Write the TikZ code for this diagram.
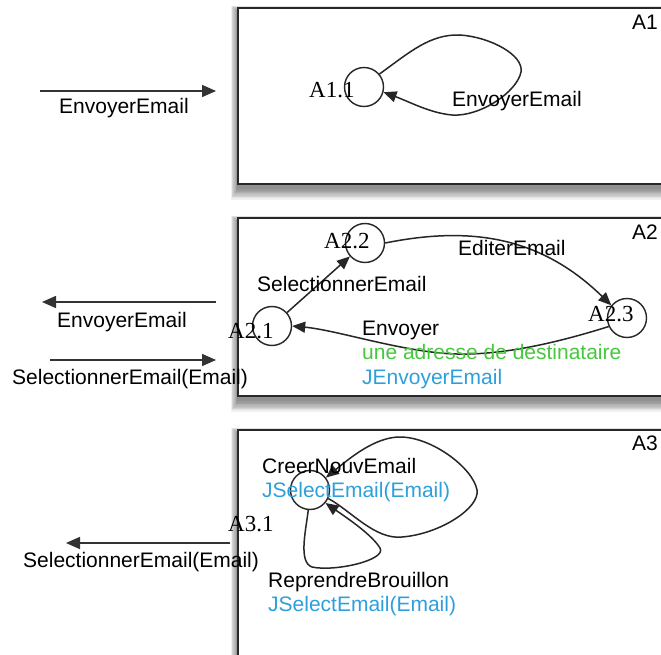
\documentclass[tikz,border=0pt]{standalone}
\usepackage{fontspec}
\setmainfont{Liberation Serif}
\setsansfont{Liberation Sans}
\usetikzlibrary{arrows.meta}
\definecolor{lblgreen}{RGB}{70,200,60}
\definecolor{lblblue}{RGB}{45,160,220}
\definecolor{boxline}{RGB}{40,40,40}
\tikzset{
  lbl/.style={font=\sffamily\fontsize{21}{25}\selectfont, inner sep=0pt, anchor=base west, text=black},
  gr/.style={lbl, text=lblgreen},
  bl/.style={lbl, text=lblblue},
  stlbl/.style={font=\rmfamily\fontsize{23}{26}\selectfont, inner sep=0pt, anchor=base west},
  state/.style={draw=black!85, circle, minimum size=39pt, inner sep=0pt, line width=1.4pt},
  edge/.style={draw=black!85, line width=1.5pt, -{Triangle[length=13pt,width=11pt]}},
  ext/.style={draw=black!80, line width=1.6pt, -{Triangle[length=14pt,width=12pt]}},
  frame/.style={draw=boxline, line width=2.2pt, fill=white},
}
\newcommand{\shadowbox}[4]{%
  \foreach \i in {1,...,9}{
    \fill[black, opacity=0.06] (#1-\i*0.8, #2+3-\i*0.6) rectangle (#3+\i, #4+4+\i*1.3);
  }
}
\begin{document}
\begin{tikzpicture}[x=1pt,y=-1pt]
\useasboundingbox (0,0) rectangle (661,655);
\fill[white] (0,0) rectangle (661,655);
% frames with shadows
\shadowbox{238}{8}{670}{184}
\draw[frame] (238,8) rectangle (670,184);
\shadowbox{238}{218}{670}{396}
\draw[frame] (238,218) rectangle (670,396);
\shadowbox{238}{430}{670}{690}
\draw[frame] (238,430) rectangle (670,690);
\node[lbl] (tA1) at (632,30) {A1};
\node[lbl] (tA2) at (632,239) {A2};
\node[lbl] (tA3) at (632,450) {A3};

% ---------- A1 ----------
\node[state] (a11) at (364,87) {};
\node[stlbl] (la11) at (309,98) {A1.1};
\draw[edge] (a11.40) .. controls (410,52) and (430,34) .. (460,35)
  .. controls (490,37) and (524,55) .. (521,72)
  .. controls (517,92) and (480,117) .. (452,115)
  .. controls (430,113) and (410,102) .. (a11.-15);
\node[lbl] (e11) at (452,107) {EnvoyerEmail};
\coordinate (p1s) at (40,91);
\coordinate (p1e) at (216,91);
\draw[ext] (p1s) -- (p1e);
\node[lbl] (l1) at (59,114) {EnvoyerEmail};

% ---------- A2 ----------
\node[state] (a21) at (272,326) {};
\node[state] (a22) at (365,243) {};
\node[state] (a23) at (627,318) {};
\node[stlbl] (la21) at (228,338) {A2.1};
\node[stlbl] (la22) at (324,248) {A2.2};
\node[stlbl] (la23) at (588,321) {A2.3};
\draw[edge] (a21) -- (a22);
\draw[edge] (a22.east) .. controls (470,226) and (540,236) .. (a23.141);
\draw[edge] (a23.205) .. controls (550,345) and (490,358) .. (440,353)
  .. controls (390,348) and (335,330) .. (a21.east);
\node[lbl] (e21) at (257,291) {SelectionnerEmail};
\node[lbl] (e22) at (458,255) {EditerEmail};
\node[lbl] (e23a) at (362,335) {Envoyer};
\node[gr] (e23b) at (362,359) {une adresse de destinataire};
\node[bl] (e23c) at (362,384) {JEnvoyerEmail};
\coordinate (p2s) at (216,302);
\coordinate (p2e) at (42,302);
\draw[ext] (p2s) -- (p2e);
\node[lbl] (l2) at (57,327) {EnvoyerEmail};
\coordinate (p3s) at (50,360);
\coordinate (p3e) at (216,360);
\draw[ext] (p3s) -- (p3e);
\node[lbl] (l3) at (12,384) {SelectionnerEmail(Email)};

% ---------- A3 ----------
\node[state] (a31) at (310,490) {};
\node[stlbl] (la31) at (228,531) {A3.1};
\draw[edge] (a31.-25) .. controls (350,510) and (375,540) .. (402,537)
  .. controls (440,534) and (480,508) .. (477,490)
  .. controls (473,468) and (432,437) .. (400,437)
  .. controls (375,437) and (350,458) .. (a31.38);
\draw[edge] (a31.-95) .. controls (306,530) and (298,562) .. (312,567)
  .. controls (335,572) and (387,560) .. (380,548)
  .. controls (372,535) and (350,520) .. (a31.-40);
\node[lbl] (e31a) at (262,473) {CreerNouvEmail};
\node[bl] (e31b) at (262,497) {JSelectEmail(Email)};
\node[lbl] (e32a) at (268,587) {ReprendreBrouillon};
\node[bl] (e32b) at (268,611) {JSelectEmail(Email)};
\coordinate (p4s) at (230,543);
\coordinate (p4e) at (66,543);
\draw[ext] (p4s) -- (p4e);
\node[lbl] (l4) at (23,567) {SelectionnerEmail(Email)};
\end{tikzpicture}
\end{document}
